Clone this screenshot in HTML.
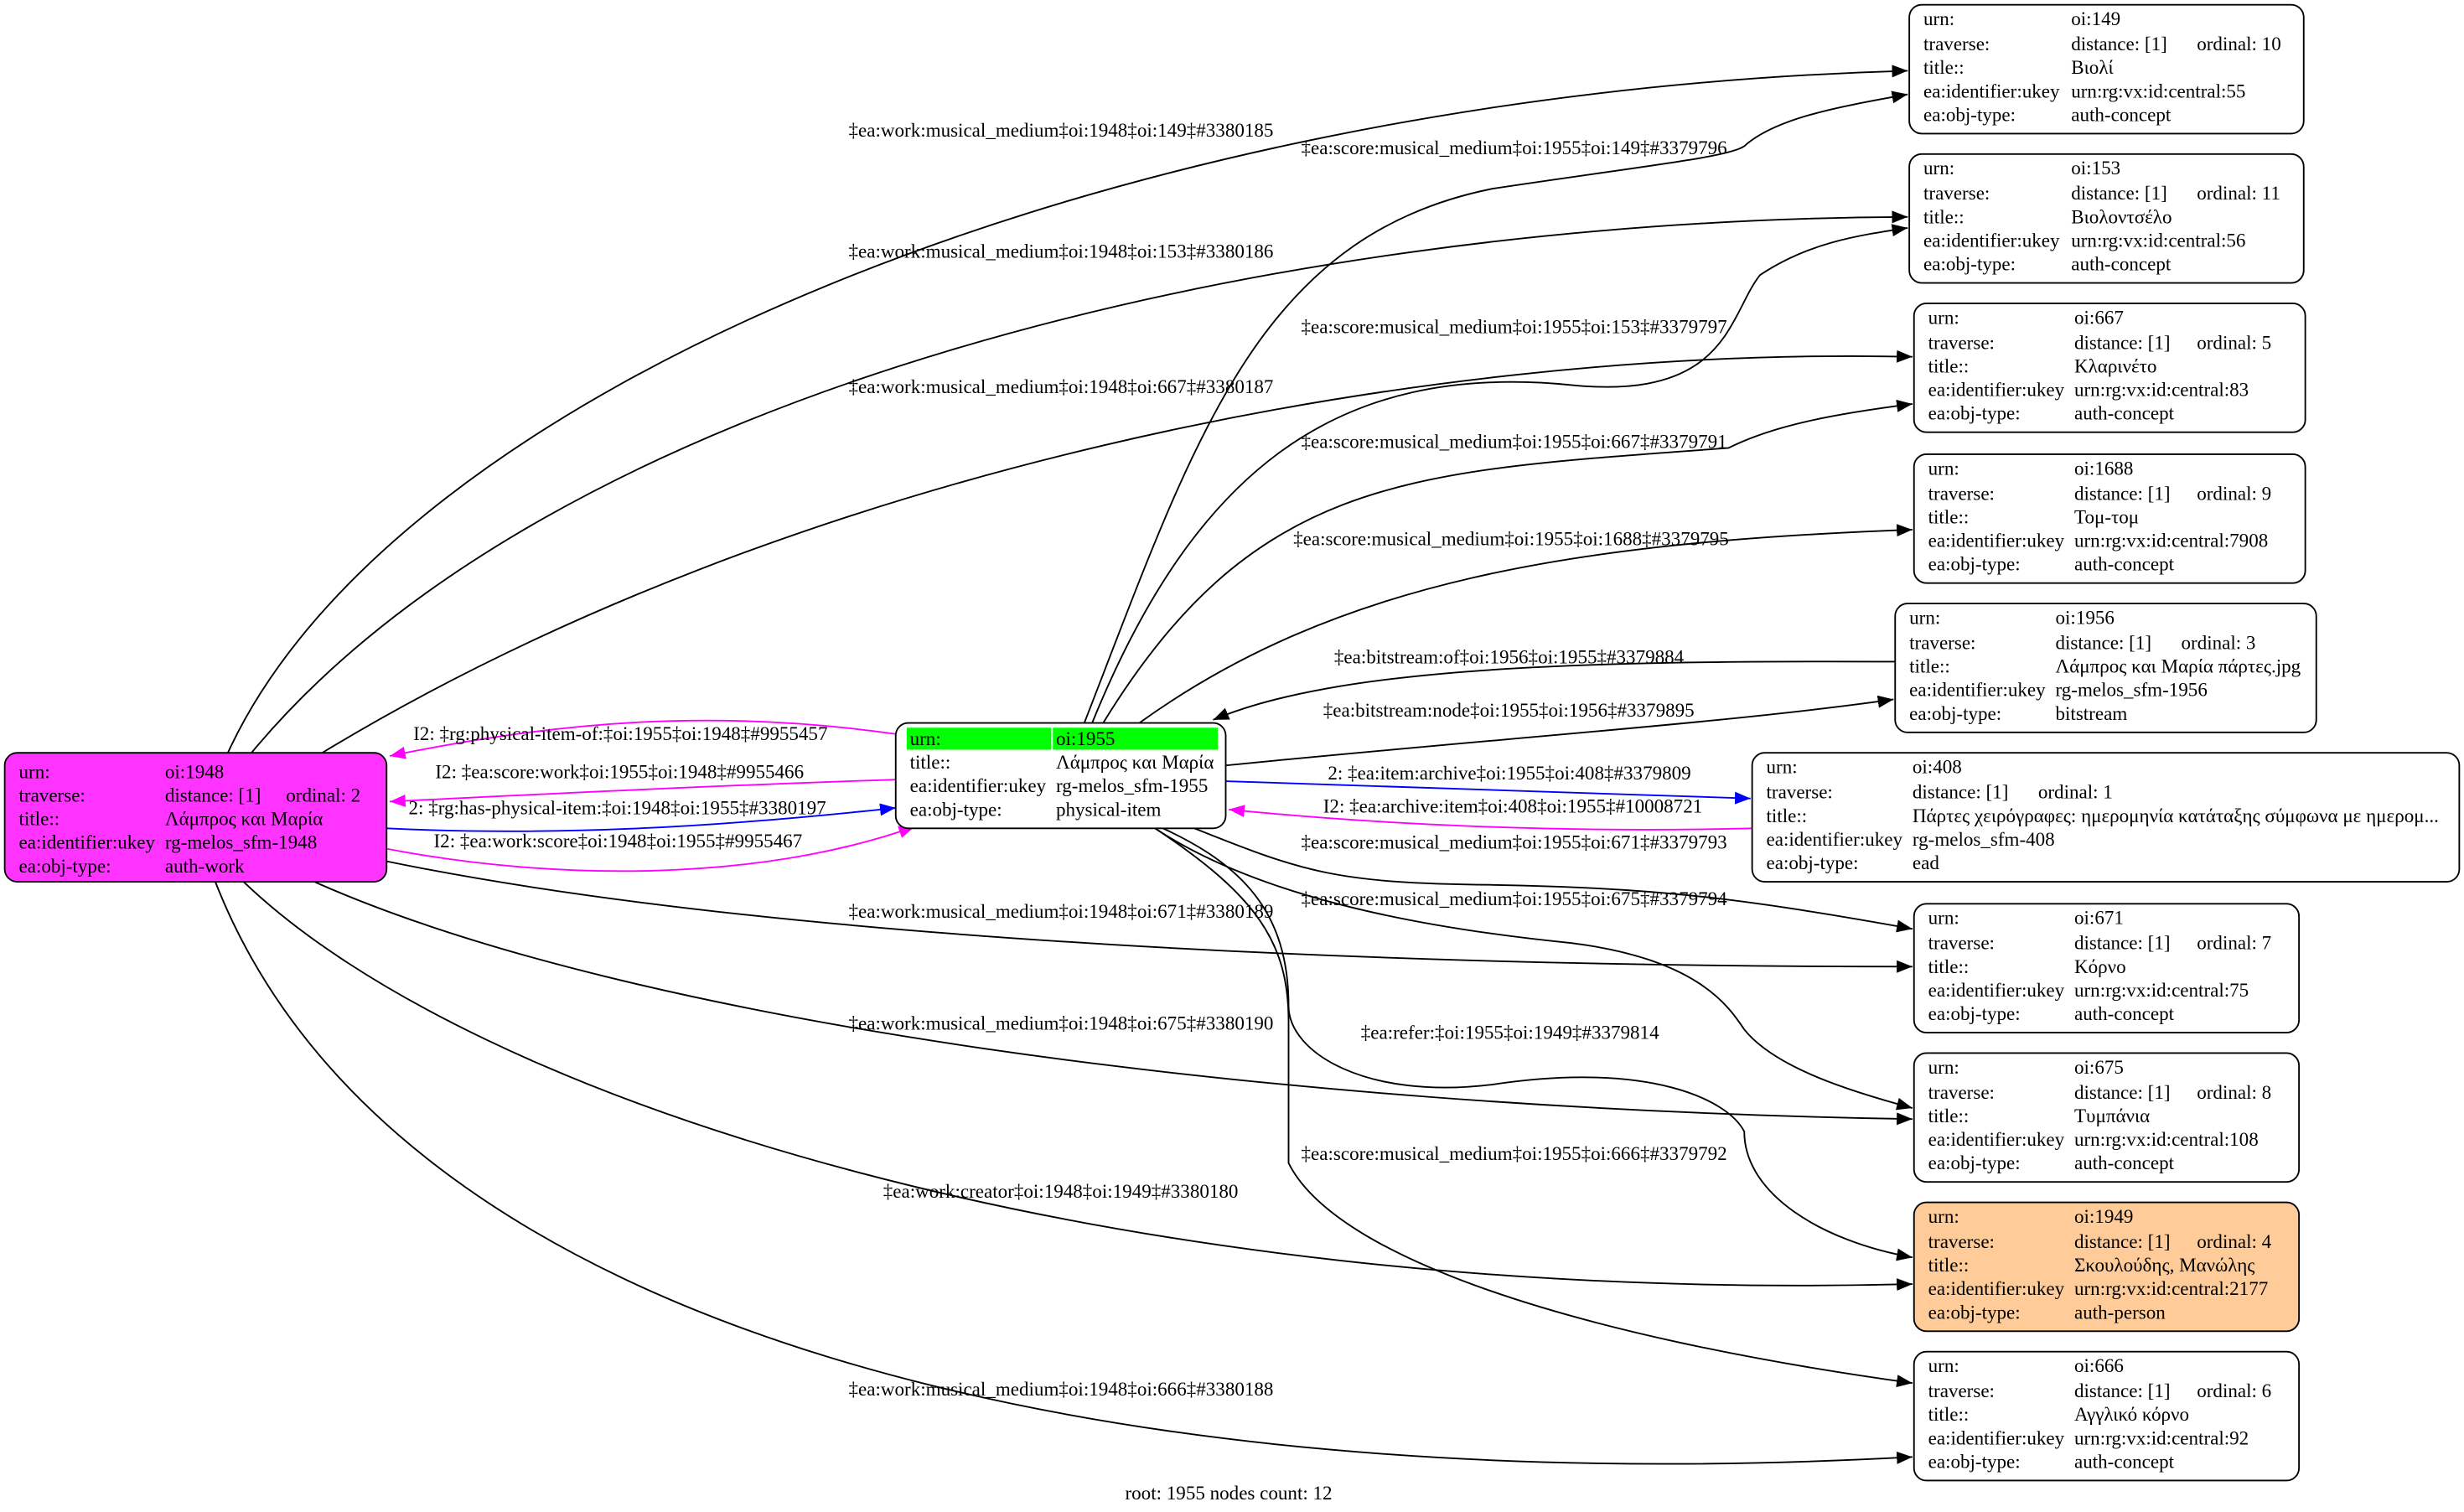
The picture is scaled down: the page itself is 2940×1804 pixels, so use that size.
<!DOCTYPE html>
<html><head><meta charset="utf-8"><style>
html,body{margin:0;padding:0;background:#fff;}
svg{display:block;}
text{font-family:"Liberation Serif","Noto Serif CJK SC",serif;font-size:12.3px;fill:#000;}
</style></head><body>
<svg width="2940" height="1804" viewBox="0 0 1568 962" preserveAspectRatio="none" xmlns="http://www.w3.org/2000/svg">
<defs>
<marker id="ab" viewBox="0 0 10 10" refX="10" refY="5" markerWidth="10" markerHeight="10" markerUnits="userSpaceOnUse" orient="auto"><path d="M0,1 L10,5 L0,9 z" fill="#000"/></marker>
<marker id="au" viewBox="0 0 10 10" refX="10" refY="5" markerWidth="10" markerHeight="10" markerUnits="userSpaceOnUse" orient="auto"><path d="M0,1 L10,5 L0,9 z" fill="#00f"/></marker>
<marker id="am" viewBox="0 0 10 10" refX="10" refY="5" markerWidth="10" markerHeight="10" markerUnits="userSpaceOnUse" orient="auto"><path d="M0,1 L10,5 L0,9 z" fill="#f0f"/></marker>
</defs>
<rect width="1568" height="962" fill="#fff"/>
<g fill="none" stroke="#000" stroke-width="1" marker-end="url(#ab)">
<path d="M145,479 C250,250 700,60 1214,45"/>
<path d="M160,479 C350,250 800,140 1214,138"/>
<path d="M205,479 C500,300 900,220 1217,227"/>
<path d="M246,548 C500,600 900,615 1217,615"/>
<path d="M200,561 C400,650 800,705 1217,712"/>
<path d="M155,561 C300,700 700,830 1217,817"/>
<path d="M137,561 C250,850 700,955 1217,927"/>
<path d="M690,460 C760,280 800,150 950,120 C1050,105 1100,100 1110,93 C1130,75 1170,68 1214,60"/>
<path d="M695,460 C760,300 850,230 1000,245 C1100,255 1100,200 1120,175 C1150,155 1180,150 1214,145"/>
<path d="M702,460 C800,300 900,300 1100,285 C1130,270 1170,263 1217,257"/>
<path d="M725,460 C850,370 1000,345 1217,337"/>
<path d="M1206,421 C1000,420 850,425 772,458"/>
<path d="M780,487 C950,470 1100,460 1205,445"/>
<path d="M760,527 C830,555 850,562 950,563 C1050,565 1100,570 1217,591"/>
<path d="M735,527 C800,570 900,590 1000,600 C1080,610 1100,640 1110,655 C1130,680 1180,695 1217,705"/>
<path d="M740,527 C790,550 820,580 820,640 C820,670 870,700 950,690 C1050,675 1100,700 1110,720 C1110,760 1160,790 1217,800"/>
<path d="M735,527 C800,570 820,600 820,650 L820,740 C850,800 1000,850 1217,880"/>
</g>
<g fill="none" stroke-width="1">
<path d="M570,467 C450,450 350,460 248,481" stroke="#f0f" marker-end="url(#am)"/>
<path d="M570,496 C450,500 350,505 248,510" stroke="#f0f" marker-end="url(#am)"/>
<path d="M246,527 C350,532 450,527 570,514" stroke="#00f" marker-end="url(#au)"/>
<path d="M246,540 C350,560 480,562 582,526" stroke="#f0f" marker-end="url(#am)"/>
<path d="M780,497 C900,500 1000,505 1114,508" stroke="#00f" marker-end="url(#au)"/>
<path d="M1115,527 C1000,530 880,525 782,515" stroke="#f0f" marker-end="url(#am)"/>
</g>
<g>
<text x="540" y="87">‡ea:work:musical_medium‡oi:1948‡oi:149‡#3380185</text>
<text x="540" y="164">‡ea:work:musical_medium‡oi:1948‡oi:153‡#3380186</text>
<text x="540" y="250">‡ea:work:musical_medium‡oi:1948‡oi:667‡#3380187</text>
<text x="540" y="584">‡ea:work:musical_medium‡oi:1948‡oi:671‡#3380189</text>
<text x="540" y="655">‡ea:work:musical_medium‡oi:1948‡oi:675‡#3380190</text>
<text x="562" y="762">‡ea:work:creator‡oi:1948‡oi:1949‡#3380180</text>
<text x="540" y="888">‡ea:work:musical_medium‡oi:1948‡oi:666‡#3380188</text>
<text x="828" y="98">‡ea:score:musical_medium‡oi:1955‡oi:149‡#3379796</text>
<text x="828" y="212">‡ea:score:musical_medium‡oi:1955‡oi:153‡#3379797</text>
<text x="828" y="285">‡ea:score:musical_medium‡oi:1955‡oi:667‡#3379791</text>
<text x="823" y="347">‡ea:score:musical_medium‡oi:1955‡oi:1688‡#3379795</text>
<text x="849" y="422">‡ea:bitstream:of‡oi:1956‡oi:1955‡#3379884</text>
<text x="842" y="456">‡ea:bitstream:node‡oi:1955‡oi:1956‡#3379895</text>
<text x="845" y="496">2: ‡ea:item:archive‡oi:1955‡oi:408‡#3379809</text>
<text x="842" y="517">I2: ‡ea:archive:item‡oi:408‡oi:1955‡#10008721</text>
<text x="828" y="540">‡ea:score:musical_medium‡oi:1955‡oi:671‡#3379793</text>
<text x="828" y="576">‡ea:score:musical_medium‡oi:1955‡oi:675‡#3379794</text>
<text x="866" y="661">‡ea:refer:‡oi:1955‡oi:1949‡#3379814</text>
<text x="828" y="738">‡ea:score:musical_medium‡oi:1955‡oi:666‡#3379792</text>
<text x="263" y="471">I2: ‡rg:physical-item-of:‡oi:1955‡oi:1948‡#9955457</text>
<text x="277" y="495">I2: ‡ea:score:work‡oi:1955‡oi:1948‡#9955466</text>
<text x="260" y="518">2: ‡rg:has-physical-item:‡oi:1948‡oi:1955‡#3380197</text>
<text x="276" y="539">I2: ‡ea:work:score‡oi:1948‡oi:1955‡#9955467</text>
<text x="716" y="954">root: 1955 nodes count: 12</text>
</g>
<g stroke="#000" stroke-width="1">
<rect x="3" y="479" width="243" height="82" rx="8" fill="#ff33ff"/>
<rect x="570" y="460" width="210" height="67" rx="8" fill="#fff"/>
<rect x="1215" y="3" width="251" height="82" rx="8" fill="#fff"/>
<rect x="1215" y="98" width="251" height="82" rx="8" fill="#fff"/>
<rect x="1218" y="193" width="249" height="82" rx="8" fill="#fff"/>
<rect x="1218" y="289" width="249" height="82" rx="8" fill="#fff"/>
<rect x="1206" y="384" width="268" height="82" rx="8" fill="#fff"/>
<rect x="1115" y="479" width="450" height="82" rx="8" fill="#fff"/>
<rect x="1218" y="575" width="245" height="82" rx="8" fill="#fff"/>
<rect x="1218" y="670" width="245" height="82" rx="8" fill="#fff"/>
<rect x="1218" y="765" width="245" height="82" rx="8" fill="#ffcc99"/>
<rect x="1218" y="860" width="245" height="82" rx="8" fill="#fff"/>
</g>
<rect x="577" y="463" width="92" height="14" fill="#00ff00"/>
<rect x="670" y="463" width="105" height="14" fill="#00ff00"/>
<g>
<text x="12" y="495">urn:</text><text x="105" y="495">oi:1948</text>
<text x="12" y="510">traverse:</text><text x="105" y="510">distance: [1]</text><text x="182" y="510">ordinal: 2</text>
<text x="12" y="525">title::</text><text x="105" y="525">Λάμπρος και Μαρία</text>
<text x="12" y="540">ea:identifier:ukey</text><text x="105" y="540">rg-melos_sfm-1948</text>
<text x="12" y="555">ea:obj-type:</text><text x="105" y="555">auth-work</text>

<text x="579" y="474">urn:</text><text x="672" y="474">oi:1955</text>
<text x="579" y="489">title::</text><text x="672" y="489">Λάμπρος και Μαρία</text>
<text x="579" y="504">ea:identifier:ukey</text><text x="672" y="504">rg-melos_sfm-1955</text>
<text x="579" y="519">ea:obj-type:</text><text x="672" y="519">physical-item</text>

<text x="1224" y="16">urn:</text><text x="1318" y="16">oi:149</text>
<text x="1224" y="32">traverse:</text><text x="1318" y="32">distance: [1]</text><text x="1398" y="32">ordinal: 10</text>
<text x="1224" y="47">title::</text><text x="1318" y="47">Βιολί</text>
<text x="1224" y="62">ea:identifier:ukey</text><text x="1318" y="62">urn:rg:vx:id:central:55</text>
<text x="1224" y="77">ea:obj-type:</text><text x="1318" y="77">auth-concept</text>

<text x="1224" y="111">urn:</text><text x="1318" y="111">oi:153</text>
<text x="1224" y="127">traverse:</text><text x="1318" y="127">distance: [1]</text><text x="1398" y="127">ordinal: 11</text>
<text x="1224" y="142">title::</text><text x="1318" y="142">Βιολοντσέλο</text>
<text x="1224" y="157">ea:identifier:ukey</text><text x="1318" y="157">urn:rg:vx:id:central:56</text>
<text x="1224" y="172">ea:obj-type:</text><text x="1318" y="172">auth-concept</text>

<text x="1227" y="206">urn:</text><text x="1320" y="206">oi:667</text>
<text x="1227" y="222">traverse:</text><text x="1320" y="222">distance: [1]</text><text x="1398" y="222">ordinal: 5</text>
<text x="1227" y="237">title::</text><text x="1320" y="237">Κλαρινέτο</text>
<text x="1227" y="252">ea:identifier:ukey</text><text x="1320" y="252">urn:rg:vx:id:central:83</text>
<text x="1227" y="267">ea:obj-type:</text><text x="1320" y="267">auth-concept</text>

<text x="1227" y="302">urn:</text><text x="1320" y="302">oi:1688</text>
<text x="1227" y="318">traverse:</text><text x="1320" y="318">distance: [1]</text><text x="1398" y="318">ordinal: 9</text>
<text x="1227" y="333">title::</text><text x="1320" y="333">Τομ-τομ</text>
<text x="1227" y="348">ea:identifier:ukey</text><text x="1320" y="348">urn:rg:vx:id:central:7908</text>
<text x="1227" y="363">ea:obj-type:</text><text x="1320" y="363">auth-concept</text>

<text x="1215" y="397">urn:</text><text x="1308" y="397">oi:1956</text>
<text x="1215" y="413">traverse:</text><text x="1308" y="413">distance: [1]</text><text x="1388" y="413">ordinal: 3</text>
<text x="1215" y="428">title::</text><text x="1308" y="428">Λάμπρος και Μαρία πάρτες.jpg</text>
<text x="1215" y="443">ea:identifier:ukey</text><text x="1308" y="443">rg-melos_sfm-1956</text>
<text x="1215" y="458">ea:obj-type:</text><text x="1308" y="458">bitstream</text>

<text x="1124" y="492">urn:</text><text x="1217" y="492">oi:408</text>
<text x="1124" y="508">traverse:</text><text x="1217" y="508">distance: [1]</text><text x="1297" y="508">ordinal: 1</text>
<text x="1124" y="523">title::</text><text x="1217" y="523">Πάρτες χειρόγραφες: ημερομηνία κατάταξης σύμφωνα με ημερομ...</text>
<text x="1124" y="538">ea:identifier:ukey</text><text x="1217" y="538">rg-melos_sfm-408</text>
<text x="1124" y="553">ea:obj-type:</text><text x="1217" y="553">ead</text>

<text x="1227" y="588">urn:</text><text x="1320" y="588">oi:671</text>
<text x="1227" y="604">traverse:</text><text x="1320" y="604">distance: [1]</text><text x="1398" y="604">ordinal: 7</text>
<text x="1227" y="619">title::</text><text x="1320" y="619">Κόρνο</text>
<text x="1227" y="634">ea:identifier:ukey</text><text x="1320" y="634">urn:rg:vx:id:central:75</text>
<text x="1227" y="649">ea:obj-type:</text><text x="1320" y="649">auth-concept</text>

<text x="1227" y="683">urn:</text><text x="1320" y="683">oi:675</text>
<text x="1227" y="699">traverse:</text><text x="1320" y="699">distance: [1]</text><text x="1398" y="699">ordinal: 8</text>
<text x="1227" y="714">title::</text><text x="1320" y="714">Τυμπάνια</text>
<text x="1227" y="729">ea:identifier:ukey</text><text x="1320" y="729">urn:rg:vx:id:central:108</text>
<text x="1227" y="744">ea:obj-type:</text><text x="1320" y="744">auth-concept</text>

<text x="1227" y="778">urn:</text><text x="1320" y="778">oi:1949</text>
<text x="1227" y="794">traverse:</text><text x="1320" y="794">distance: [1]</text><text x="1398" y="794">ordinal: 4</text>
<text x="1227" y="809">title::</text><text x="1320" y="809">Σκουλούδης, Μανώλης</text>
<text x="1227" y="824">ea:identifier:ukey</text><text x="1320" y="824">urn:rg:vx:id:central:2177</text>
<text x="1227" y="839">ea:obj-type:</text><text x="1320" y="839">auth-person</text>

<text x="1227" y="873">urn:</text><text x="1320" y="873">oi:666</text>
<text x="1227" y="889">traverse:</text><text x="1320" y="889">distance: [1]</text><text x="1398" y="889">ordinal: 6</text>
<text x="1227" y="904">title::</text><text x="1320" y="904">Αγγλικό κόρνο</text>
<text x="1227" y="919">ea:identifier:ukey</text><text x="1320" y="919">urn:rg:vx:id:central:92</text>
<text x="1227" y="934">ea:obj-type:</text><text x="1320" y="934">auth-concept</text>
</g>
</svg>
</body></html>
